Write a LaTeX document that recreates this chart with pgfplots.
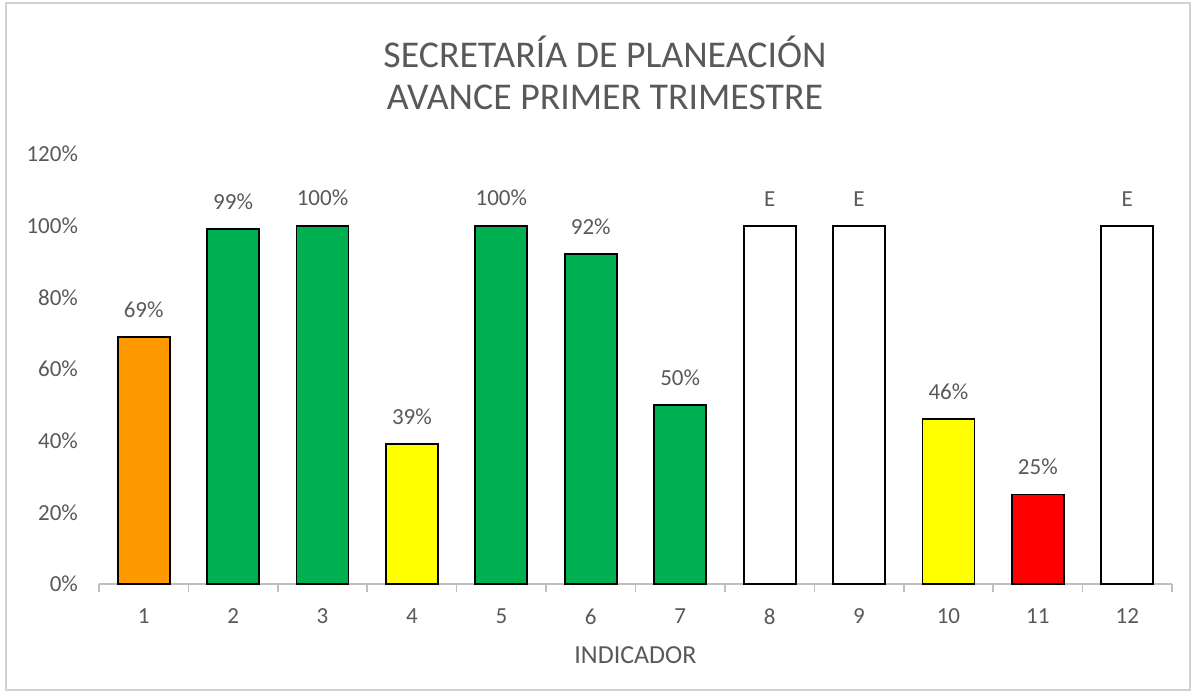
\documentclass[border=0pt]{standalone}
\usepackage{pgfplots}
\pgfplotsset{compat=1.18}
\usepackage{fontspec}
\setmainfont{Carlito}
\definecolor{txt}{HTML}{595959}
\definecolor{cor}{HTML}{FF9900}
\definecolor{cgr}{HTML}{00B050}
\definecolor{cye}{HTML}{FFFF00}
\definecolor{cre}{HTML}{FF0000}
\definecolor{axg}{HTML}{BFBFBF}
\begin{document}
\begin{tikzpicture}[x=1pt,y=1pt]
\useasboundingbox (-49.5,-54.5) rectangle (548.5,292);
\draw[color=axg!70, line width=0.6pt] (-46.5,-53) rectangle (545.5,290.5);
\begin{axis}[
  at={(0,0)}, anchor=south west, scale only axis,
  width=536.5pt, height=215pt,
  xmin=0.5, xmax=12.5, ymin=0, ymax=120,
  axis x line=bottom, axis y line=left,
  y axis line style={draw=none},
  x axis line style={axg, line width=0.8pt, -},
  /pgf/number format/assume math mode=true,
  ytick={0,20,...,120},
  yticklabel={\pgfmathprintnumber{\tick}\%},
  ytick style={draw=none},
  xtick={0.5,1.5,...,12.5},
  xticklabels={},
  xtick style={draw=axg, line width=0.8pt},
  major tick length=4pt, tick align=outside,
  extra x ticks={1,2,...,12},
  extra x tick labels={1,2,3,4,5,6,7,8,9,10,11,12},
  extra x tick style={major tick length=0pt},
  ticklabel style={font=\fontsize{11.5}{13}\selectfont, text=txt},
  yticklabel style={xshift=-3pt},
  xticklabel style={yshift=-9pt},
  xlabel={INDICADOR},
  xlabel style={font=\fontsize{13}{15}\selectfont, text=txt, at={(axis description cs:0.5,0)}, anchor=center, yshift=-35.5pt},
  ybar, bar width=26pt, bar shift=0pt,
  every axis plot/.append style={draw=black, line width=0.9pt},
  nodes near coords,
  nodes near coords style={font=\fontsize{11.5}{13}\selectfont, text=txt, yshift=6pt},
  point meta=explicit symbolic,
  clip=false,
]
\addplot[fill=cor] coordinates {(1,69) [69\%]};
\addplot[fill=cgr] coordinates {(2,99) [99\%] (3,100) [100\%] (5,100) [100\%] (6,92) [92\%] (7,50) [50\%]};
\addplot[fill=white] coordinates {(8,100) [E] (9,100) [E] (12,100) [E]};
\addplot[fill=cye] coordinates {(4,39) [39\%] (10,46) [46\%]};
\addplot[fill=cre] coordinates {(11,25) [25\%]};
\end{axis}
\node[text=txt, font=\fontsize{18.9}{22}\selectfont, anchor=base] at (253,258.5) {SECRETARÍA DE PLANEACIÓN};
\node[text=txt, font=\fontsize{18.9}{22}\selectfont, anchor=base] at (253,237.5) {AVANCE PRIMER TRIMESTRE};
\end{tikzpicture}
\end{document}
